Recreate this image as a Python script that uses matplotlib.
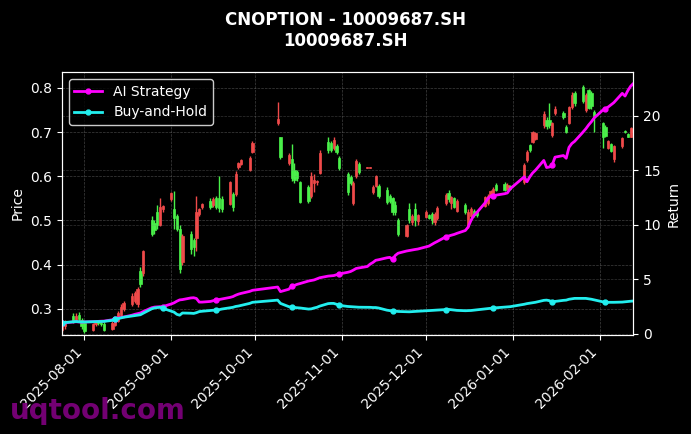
import numpy as np
import pandas as pd
import matplotlib
matplotlib.use('Agg')
import matplotlib.pyplot as plt
import matplotlib.dates as mdates

# trading days (CN market, National Day + New Year closed)
holidays = ['2025-10-01', '2025-10-02', '2025-10-03', '2025-10-06', '2025-10-07',
            '2025-10-08', '2026-01-01', '2026-01-02']
dates = pd.bdate_range('2025-07-24', '2026-02-13')
dates = dates[~dates.isin(pd.to_datetime(holidays))]

# OHLC
open_ = [0.252, 0.262, 0.283, 0.275, 0.287, 0.275, 0.268, 0.252, 0.266, 0.270,
         0.268, 0.266, 0.255, 0.264, 0.272, 0.286, 0.300, 0.310, 0.318, 0.310,
         0.385, 0.380, 0.500, 0.495, 0.520, 0.490, 0.525, 0.548, 0.525, 0.510,
         0.480, 0.405, 0.470, 0.455, 0.460, 0.515, 0.530, 0.545, 0.535, 0.550,
         0.550, 0.548, 0.537, 0.560, 0.560, 0.620, 0.628, 0.614, 0.655, 0.720,
         0.688, 0.630, 0.640, 0.615, 0.610, 0.586, 0.575, 0.555, 0.585, 0.586,
         0.608, 0.678, 0.675, 0.665, 0.668, 0.642, 0.605, 0.598, 0.540, 0.600,
         0.628, 0.619, 0.619, 0.565, 0.578, 0.578, 0.570, 0.555, 0.550, 0.535,
         0.500, 0.465, 0.525, 0.497, 0.525, 0.498, 0.508, 0.512, 0.515, 0.497,
         0.505, 0.540, 0.562, 0.540, 0.550, 0.522, 0.535, 0.487, 0.510, 0.522,
         0.518, 0.532, 0.540, 0.555, 0.563, 0.580, 0.582, 0.572, 0.578, 0.587,
         0.637, 0.670, 0.678, 0.685, 0.715, 0.728, 0.727, 0.694, 0.744, 0.744,
         0.712, 0.720, 0.756, 0.788, 0.803, 0.750, 0.795, 0.788, 0.745, 0.720,
         0.712, 0.665, 0.673, 0.640, 0.668, 0.703, 0.695, 0.690, 0.700]
high = [0.272, 0.275, 0.290, 0.290, 0.292, 0.280, 0.272, 0.268, 0.274, 0.274,
        0.272, 0.270, 0.272, 0.276, 0.294, 0.310, 0.318, 0.336, 0.340, 0.350,
        0.395, 0.432, 0.510, 0.500, 0.535, 0.550, 0.535, 0.565, 0.567, 0.515,
        0.490, 0.470, 0.475, 0.460, 0.555, 0.528, 0.540, 0.550, 0.552, 0.555,
        0.600, 0.555, 0.590, 0.565, 0.612, 0.632, 0.640, 0.645, 0.680, 0.768,
        0.690, 0.652, 0.672, 0.630, 0.615, 0.590, 0.580, 0.610, 0.605, 0.592,
        0.660, 0.688, 0.680, 0.688, 0.672, 0.645, 0.610, 0.602, 0.590, 0.640,
        0.632, 0.622, 0.622, 0.580, 0.603, 0.582, 0.575, 0.560, 0.552, 0.545,
        0.505, 0.492, 0.540, 0.515, 0.540, 0.515, 0.524, 0.515, 0.518, 0.518,
        0.532, 0.562, 0.570, 0.556, 0.552, 0.548, 0.540, 0.525, 0.530, 0.526,
        0.522, 0.556, 0.560, 0.568, 0.575, 0.584, 0.588, 0.584, 0.581, 0.630,
        0.660, 0.673, 0.702, 0.700, 0.748, 0.735, 0.765, 0.722, 0.758, 0.748,
        0.715, 0.758, 0.790, 0.792, 0.806, 0.788, 0.798, 0.792, 0.750, 0.722,
        0.715, 0.683, 0.676, 0.670, 0.690, 0.704, 0.697, 0.712, 0.712]
low = [0.248, 0.255, 0.268, 0.270, 0.270, 0.255, 0.246, 0.250, 0.262, 0.264,
       0.262, 0.250, 0.252, 0.260, 0.270, 0.282, 0.296, 0.306, 0.312, 0.305,
       0.350, 0.375, 0.465, 0.470, 0.480, 0.488, 0.520, 0.545, 0.480, 0.475,
       0.380, 0.400, 0.425, 0.420, 0.430, 0.510, 0.526, 0.525, 0.530, 0.525,
       0.520, 0.520, 0.535, 0.522, 0.555, 0.617, 0.625, 0.612, 0.652, 0.715,
       0.640, 0.625, 0.590, 0.585, 0.590, 0.540, 0.540, 0.550, 0.565, 0.580,
       0.605, 0.652, 0.655, 0.660, 0.650, 0.615, 0.558, 0.580, 0.535, 0.595,
       0.605, 0.618, 0.618, 0.560, 0.575, 0.550, 0.538, 0.540, 0.512, 0.512,
       0.465, 0.462, 0.495, 0.490, 0.488, 0.490, 0.505, 0.503, 0.493, 0.490,
       0.500, 0.535, 0.542, 0.525, 0.528, 0.518, 0.515, 0.482, 0.505, 0.508,
       0.508, 0.530, 0.535, 0.552, 0.560, 0.566, 0.566, 0.570, 0.568, 0.583,
       0.633, 0.656, 0.675, 0.682, 0.710, 0.708, 0.710, 0.690, 0.738, 0.730,
       0.698, 0.718, 0.752, 0.760, 0.765, 0.746, 0.752, 0.752, 0.700, 0.665,
       0.688, 0.662, 0.655, 0.632, 0.665, 0.699, 0.688, 0.688, 0.698]
close = [0.268, 0.270, 0.272, 0.284, 0.276, 0.262, 0.250, 0.265, 0.270, 0.268,
         0.266, 0.252, 0.268, 0.272, 0.290, 0.305, 0.312, 0.330, 0.336, 0.345,
         0.355, 0.430, 0.470, 0.478, 0.490, 0.530, 0.532, 0.563, 0.505, 0.480,
         0.390, 0.465, 0.435, 0.440, 0.520, 0.525, 0.537, 0.530, 0.548, 0.530,
         0.528, 0.525, 0.586, 0.530, 0.606, 0.630, 0.636, 0.642, 0.675, 0.730,
         0.643, 0.648, 0.595, 0.592, 0.595, 0.542, 0.545, 0.600, 0.592, 0.590,
         0.652, 0.660, 0.660, 0.683, 0.655, 0.618, 0.565, 0.585, 0.585, 0.635,
         0.610, 0.621, 0.621, 0.576, 0.600, 0.555, 0.542, 0.545, 0.520, 0.518,
         0.470, 0.490, 0.500, 0.510, 0.500, 0.512, 0.520, 0.505, 0.500, 0.515,
         0.528, 0.558, 0.548, 0.553, 0.530, 0.545, 0.518, 0.520, 0.525, 0.512,
         0.512, 0.553, 0.556, 0.566, 0.572, 0.570, 0.570, 0.580, 0.572, 0.625,
         0.655, 0.660, 0.700, 0.697, 0.742, 0.713, 0.716, 0.720, 0.752, 0.734,
         0.700, 0.756, 0.785, 0.765, 0.770, 0.785, 0.755, 0.758, 0.737, 0.690,
         0.692, 0.680, 0.658, 0.668, 0.687, 0.700, 0.690, 0.710, 0.708]

# cumulative return curves
ai_strategy = [1.00, 1.02, 1.10, 1.12, 1.10, 1.08, 1.10, 1.12, 1.14, 1.15,
               1.17, 1.18, 1.30, 1.40, 1.46, 1.50, 1.55, 1.72, 1.80, 1.86,
               1.92, 2.05, 2.40, 2.46, 2.48, 2.50, 2.50, 2.75, 2.85, 3.00,
               3.12, 3.15, 3.30, 3.32, 3.25, 2.92, 2.92, 2.98, 3.05, 3.10,
               3.15, 3.20, 3.35, 3.42, 3.55, 3.65, 3.72, 3.90, 4.00, 4.30,
               3.88, 4.10, 4.40, 4.45, 4.55, 4.62, 4.85, 4.90, 4.95, 5.05,
               5.15, 5.30, 5.32, 5.35, 5.42, 5.50, 5.65, 5.72, 5.85, 6.00,
               6.05, 6.18, 6.40, 6.55, 6.75, 6.80, 6.98, 7.02, 6.84, 7.20,
               7.40, 7.60, 7.65, 7.70, 7.74, 7.78, 7.98, 8.05, 8.20, 8.35,
               8.48, 8.90, 8.98, 9.05, 9.12, 9.22, 9.48, 9.80, 10.40, 10.85,
               11.10, 12.00, 12.40, 12.62, 12.68, 12.72, 12.85, 12.92, 13.30, 14.40,
               13.95, 14.40, 14.75, 15.00, 15.90, 15.25, 15.30, 15.48, 16.20, 16.35,
               16.10, 17.10, 17.45, 17.65, 18.50, 18.80, 19.15, 19.45, 19.80, 20.50,
               20.65, 20.80, 21.00, 21.20, 22.05, 21.80, 22.30, 22.70, 22.95]
buy_and_hold = [1.00, 1.05, 1.12, 1.14, 1.12, 1.10, 1.10, 1.12, 1.13, 1.14,
                1.15, 1.15, 1.25, 1.34, 1.40, 1.47, 1.53, 1.64, 1.68, 1.71,
                1.76, 1.90, 2.30, 2.38, 2.42, 2.44, 2.35, 2.08, 2.00, 1.80,
                1.72, 1.92, 1.90, 1.88, 1.95, 2.05, 2.08, 2.15, 2.17, 2.19,
                2.22, 2.28, 2.40, 2.44, 2.52, 2.56, 2.62, 2.80, 2.90, 3.10,
                2.80, 2.50, 2.45, 2.42, 2.40, 2.38, 2.28, 2.30, 2.38, 2.44,
                2.55, 2.78, 2.80, 2.80, 2.72, 2.62, 2.52, 2.50, 2.48, 2.46,
                2.45, 2.44, 2.44, 2.42, 2.42, 2.38, 2.18, 2.14, 2.12, 2.10,
                2.06, 2.03, 2.03, 2.05, 2.07, 2.08, 2.12, 2.14, 2.16, 2.18,
                2.19, 2.24, 2.25, 2.22, 2.18, 2.16, 2.13, 2.14, 2.15, 2.18,
                2.22, 2.30, 2.33, 2.36, 2.38, 2.40, 2.45, 2.48, 2.50, 2.72,
                2.78, 2.82, 2.86, 2.90, 3.08, 3.10, 3.05, 2.92, 2.98, 3.08,
                3.10, 3.18, 3.22, 3.26, 3.26, 3.26, 3.22, 3.18, 3.12, 2.95,
                2.92, 2.90, 2.90, 2.90, 2.92, 2.95, 2.98, 3.00, 3.02]

open_ = np.array(open_)
high = np.array(high)
low = np.array(low)
close = np.array(close)

red = '#f04a4a'
green = '#4af04a'
up = close >= open_
colors = np.where(up, red, green)

fig = plt.figure(figsize=(6.91, 4.34), dpi=100, facecolor='black')
ax = fig.add_axes([0.0897, 0.228, 0.827, 0.606])
ax.set_facecolor('black')

ax.vlines(dates, low, high, colors=colors, linewidth=1)
body = np.maximum(np.abs(close - open_), 0.002)
ax.bar(dates, body, bottom=np.minimum(open_, close), width=0.8,
       color=colors, edgecolor=colors, linewidth=0.5)

ax.set_xlim(dates[0], dates[-1])
ax.set_ylim(0.2405, 0.836)
ax.set_ylabel('Price', color='white', fontsize=10)
ax.grid(True, color='gray', linestyle='--', linewidth=0.5, alpha=0.5)
ax.xaxis.set_major_locator(mdates.MonthLocator())
ax.xaxis.set_major_formatter(mdates.DateFormatter('%Y-%m-%d'))
plt.setp(ax.get_xticklabels(), rotation=45, ha='right')

ax2 = ax.twinx()
ax2.plot(dates, ai_strategy, color='#ff00ff', linewidth=2, marker='o',
         markersize=3.5, markevery=13, label='AI Strategy')
ax2.plot(dates, buy_and_hold, color='#22eeee', linewidth=2, marker='o',
         markersize=3.5, markevery=13, label='Buy-and-Hold')
ax2.set_ylim(-0.1, 24.0)
ax2.set_ylabel('Return', color='white', fontsize=10)
ax2.grid(True, color='gray', linestyle='--', linewidth=0.5, alpha=0.4)

for a in (ax, ax2):
    a.tick_params(colors='white', labelsize=10)
    for s in a.spines.values():
        s.set_color('white')

leg = ax2.legend(loc='upper left', facecolor='black', edgecolor='white',
                 labelcolor='white', fontsize=10)

fig.suptitle('CNOPTION - 10009687.SH\n10009687.SH', color='white',
             fontsize=12, fontweight='bold', y=0.975)

fig.text(0.014, 0.035, 'uqtool.com', color='#800080', fontsize=20,
         fontweight='bold', alpha=0.9, zorder=10)

fig.savefig('out.png', facecolor='black')
